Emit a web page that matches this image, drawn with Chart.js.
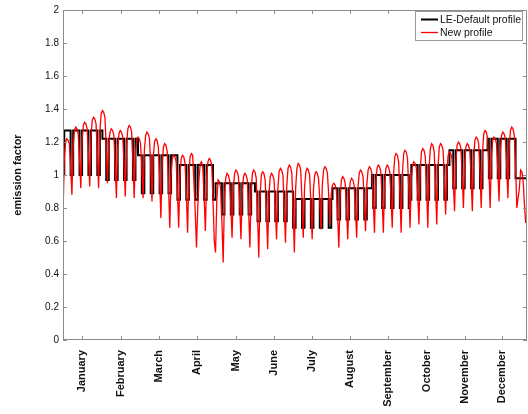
<!DOCTYPE html>
<html>
<head>
<meta charset="utf-8">
<style>
  html, body { margin: 0; padding: 0; background: #ffffff; }
  #wrap { width: 528px; height: 414px; }
</style>
<script src="https://cdn.jsdelivr.net/npm/chart.js@4/dist/chart.umd.min.js"></script>
</head>
<body>
<div id="wrap"><canvas id="c" width="528" height="414"></canvas></div>
<script>
// ---- data ---------------------------------------------------------------
const monthNames = ['January', 'February', 'March', 'April', 'May', 'June',
  'July', 'August', 'September', 'October', 'November', 'December'];
// day-of-year positions of the month labels
const monthTickDays = [15, 45.5, 75.5, 105.5, 136, 166, 196, 226, 256, 286.5, 316, 345.5];
const yTicks = [0, 0.2, 0.4, 0.6, 0.8, 1, 1.2, 1.4, 1.6, 1.8, 2];

// LE-Default profile: monthly factor on working days and on weekends/holidays
const profileYear = 2006;
const defaultWorkday = [1.27, 1.22, 1.12, 1.06, 0.95, 0.90, 0.855, 0.92, 1.00, 1.06, 1.15, 1.22];
const defaultWeekend = [1.00, 0.97, 0.89, 0.85, 0.76, 0.72, 0.68, 0.73, 0.80, 0.85, 0.92, 0.98];
const defaultHolidays = [358, 359, 360, 361, 362];   // Christmas week (day of year, 0-based)

// New profile: daily emission factors
const newJan = [0.75, 1.09, 1.20, 1.22, 1.21, 1.19, 1.05, 0.88, 1.17, 1.27, 1.29, 1.28, 1.25, 1.10, 0.92,
  1.21, 1.30, 1.32, 1.31, 1.28, 1.13, 0.93, 1.23, 1.33, 1.35, 1.34, 1.31, 1.14, 0.92, 1.26, 1.37];
const newFeb = [1.39, 1.38, 1.35, 1.17, 0.95, 1.19, 1.26, 1.28, 1.27, 1.24, 1.07, 0.86, 1.16, 1.25,
  1.27, 1.26, 1.23, 1.07, 0.87, 1.18, 1.28, 1.30, 1.29, 1.26, 1.08, 0.86, 1.13, 1.21];
const newMar = [1.23, 1.22, 1.19, 1.05, 0.86, 1.15, 1.24, 1.26, 1.25, 1.22, 1.05, 0.84, 1.11, 1.20, 1.22,
  1.21, 1.17, 0.98, 0.74, 1.06, 1.17, 1.19, 1.18, 1.14, 0.94, 0.68, 1.00, 1.10, 1.12, 1.11, 1.08];
const newApr = [0.90, 0.68, 1.00, 1.10, 1.12, 1.11, 1.07, 0.89, 0.65, 1.00, 1.11, 1.13, 1.12, 0.95, 0.78,
  0.56, 0.80, 0.98, 1.07, 1.08, 1.04, 0.87, 0.66, 0.98, 1.08, 1.10, 1.09, 1.06, 0.85, 0.60];
const newMay = [0.53, 0.85, 0.97, 0.96, 0.92, 0.72, 0.47, 0.86, 0.98, 1.01, 1.00, 0.97, 0.81, 0.62, 0.92,
  1.01, 1.03, 1.02, 0.99, 0.82, 0.61, 0.90, 0.99, 1.01, 1.00, 0.97, 0.79, 0.56, 0.90, 1.01, 1.03];
const newJun = [1.02, 0.98, 0.77, 0.50, 0.87, 1.00, 1.02, 1.01, 0.97, 0.79, 0.55, 0.88, 0.99, 1.01, 1.00,
  0.97, 0.81, 0.61, 0.92, 1.02, 1.04, 1.03, 1.00, 0.82, 0.59, 0.93, 1.04, 1.06, 1.05, 1.01];
const newJul = [0.80, 0.53, 0.92, 1.04, 1.07, 1.06, 1.03, 0.85, 0.62, 0.92, 1.02, 1.04, 1.03, 1.00, 0.83,
  0.61, 0.91, 1.00, 1.02, 1.01, 0.98, 0.85, 0.67, 0.94, 1.03, 1.05, 1.04, 1.01, 0.88, 0.70, 0.88];
const newAug = [0.94, 0.95, 0.94, 0.91, 0.76, 0.56, 0.87, 0.97, 0.99, 0.98, 0.95, 0.80, 0.61, 0.88, 0.96,
  0.98, 0.97, 0.94, 0.80, 0.62, 0.92, 1.01, 1.03, 1.02, 0.99, 0.85, 0.66, 0.94, 1.03, 1.05, 1.04];
const newSep = [1.01, 0.85, 0.65, 0.95, 1.04, 1.06, 1.05, 1.02, 0.86, 0.65, 0.95, 1.04, 1.06, 1.05, 1.02,
  0.87, 0.68, 1.00, 1.11, 1.13, 1.12, 1.08, 0.89, 0.65, 1.01, 1.13, 1.15, 1.14, 1.10, 0.92];
const newOct = [0.68, 0.97, 1.06, 1.08, 1.07, 1.04, 0.89, 0.70, 1.03, 1.14, 1.16, 1.15, 1.11, 0.92, 0.68,
  1.05, 1.16, 1.19, 1.18, 1.14, 0.95, 0.70, 1.05, 1.17, 1.19, 1.18, 1.15, 0.98, 0.76, 1.03, 1.12];
const newNov = [1.14, 1.13, 1.10, 0.96, 0.78, 1.08, 1.18, 1.20, 1.19, 1.16, 1.00, 0.80, 1.08, 1.17, 1.19,
  1.18, 1.15, 0.99, 0.78, 1.10, 1.21, 1.23, 1.22, 1.19, 1.02, 0.80, 1.14, 1.25, 1.27, 1.26];
const newDec = [1.22, 1.04, 0.80, 1.11, 1.21, 1.23, 1.22, 1.19, 1.04, 0.84, 1.14, 1.24, 1.26, 1.25, 1.22,
  1.06, 0.86, 1.17, 1.27, 1.29, 1.28, 1.24, 1.05, 0.80, 0.86, 0.92, 1.03, 1.02, 0.96, 0.82, 0.71];

// ---- series -------------------------------------------------------------
const newProfile = [].concat(newJan, newFeb, newMar, newApr, newMay, newJun,
  newJul, newAug, newSep, newOct, newNov, newDec);

const defaultProfile = newProfile.map((_, d) => {
  const date = new Date(profileYear, 0, 1 + d);
  const wd = date.getDay();
  const off = wd === 0 || wd === 6 || defaultHolidays.includes(d);
  return off ? defaultWeekend[date.getMonth()] : defaultWorkday[date.getMonth()];
});

const newPoints = newProfile.map((v, d) => ({ x: d, y: v }));
const defaultPoints = defaultProfile.map((v, d) => ({ x: d, y: v }));
defaultPoints.push({ x: newProfile.length, y: defaultProfile[defaultProfile.length - 1] });

// ---- axes box, inward ticks and legend ------------------------------------
const framePlugin = {
  id: 'frame',
  afterDatasetsDraw(chart) {
    const { ctx, chartArea: a, scales: { x, y } } = chart;
    ctx.save();
    ctx.strokeStyle = '#8c8c8c';
    ctx.lineWidth = 1;
    ctx.strokeRect(a.left + 0.5, a.top + 0.5, a.right - a.left - 1, a.bottom - a.top - 1);
    ctx.beginPath();
    monthTickDays.forEach(v => {
      const px = Math.round(x.getPixelForValue(v)) + 0.5;
      ctx.moveTo(px, a.bottom); ctx.lineTo(px, a.bottom - 4);
      ctx.moveTo(px, a.top); ctx.lineTo(px, a.top + 4);
    });
    yTicks.forEach(v => {
      const py = Math.round(y.getPixelForValue(v)) + 0.5;
      ctx.moveTo(a.left, py); ctx.lineTo(a.left + 4, py);
      ctx.moveTo(a.right, py); ctx.lineTo(a.right - 4, py);
    });
    ctx.stroke();

    // legend
    const bx = 415.5, by = 11.5, bw = 107, bh = 29;
    ctx.fillStyle = '#ffffff';
    ctx.fillRect(bx, by, bw, bh);
    ctx.strokeStyle = '#9a9a9a';
    ctx.strokeRect(bx, by, bw, bh);
    const items = [
      { label: 'LE-Default profile', color: '#000000', width: 2, y: 19.5 },
      { label: 'New profile', color: '#ff0000', width: 1.3, y: 32.5 }
    ];
    ctx.font = '10.5px "Liberation Sans", Arial, sans-serif';
    ctx.textBaseline = 'middle';
    items.forEach(it => {
      ctx.beginPath();
      ctx.strokeStyle = it.color;
      ctx.lineWidth = it.width;
      ctx.moveTo(421, it.y); ctx.lineTo(438, it.y);
      ctx.stroke();
      ctx.fillStyle = '#111111';
      ctx.fillText(it.label, 440, it.y + 0.5);
    });
    ctx.restore();
  }
};

new Chart(document.getElementById('c'), {
  type: 'line',
  data: {
    datasets: [
      {
        label: 'LE-Default profile',
        data: defaultPoints,
        borderColor: '#000000',
        borderWidth: 2,
        stepped: true,
        pointRadius: 0,
        fill: false,
        order: 1
      },
      {
        label: 'New profile',
        data: newPoints,
        borderColor: '#ff0000',
        borderWidth: 1.3,
        tension: 0,
        pointRadius: 0,
        fill: false,
        order: 0
      }
    ]
  },
  options: {
    responsive: false,
    devicePixelRatio: 1,
    animation: false,
    layout: { padding: { top: 10, right: 1, left: 0, bottom: 0 } },
    plugins: {
      legend: { display: false },
      tooltip: { enabled: false }
    },
    scales: {
      x: {
        type: 'linear',
        min: 0,
        max: 365,
        grid: { display: false, drawTicks: false },
        border: { display: false },
        afterBuildTicks(scale) { scale.ticks = monthTickDays.map(v => ({ value: v })); },
        afterFit(scale) { scale.height = 74; },
        ticks: {
          autoSkip: false,
          minRotation: 90,
          maxRotation: 90,
          padding: 10,
          color: '#111111',
          font: { family: '"Liberation Sans", Arial, sans-serif', size: 11, weight: 'bold' },
          callback: (value, index) => monthNames[index]
        }
      },
      y: {
        min: 0,
        max: 2,
        grid: { display: false, drawTicks: false },
        border: { display: false },
        afterBuildTicks(scale) { scale.ticks = yTicks.map(v => ({ value: v })); },
        afterFit(scale) { scale.width = 63; },
        ticks: {
          padding: 4,
          color: '#111111',
          font: { family: '"Liberation Sans", Arial, sans-serif', size: 10 },
          callback: value => String(Math.round(value * 10) / 10)
        },
        title: {
          display: true,
          text: 'emission factor',
          color: '#111111',
          padding: { top: 11, bottom: 0 },
          font: { family: '"Liberation Sans", Arial, sans-serif', size: 11, weight: 'bold' }
        }
      }
    }
  },
  plugins: [framePlugin]
});
</script>
</body>
</html>
